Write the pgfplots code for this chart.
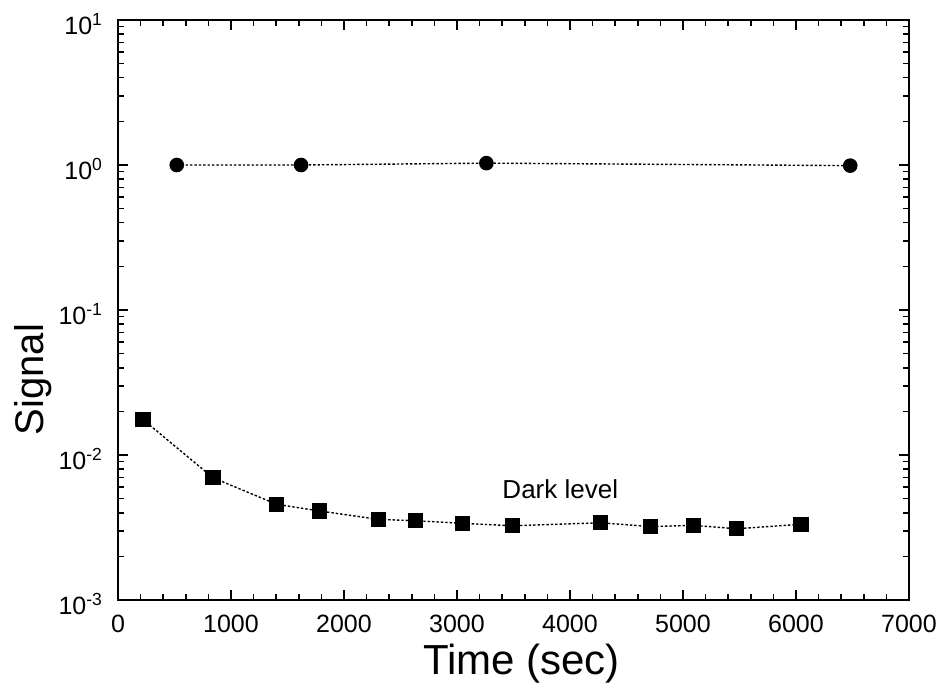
\documentclass[border=0pt]{standalone}
\usepackage{fontspec}
\setmainfont{Liberation Sans}
\usepackage{pgfplots}
\pgfplotsset{compat=1.18}

% circles: reference signal, squares: dark level
\pgfplotstableread{
t     s
520   1.00
1620  1.00
3260  1.03
6480  0.99
}\signal

\pgfplotstableread{
t     s
220   0.0176
840   0.00697
1405  0.00457
1785  0.00411
2305  0.00360
2635  0.00352
3050  0.00338
3490  0.00325
4270  0.00341
4710  0.00321
5095  0.00327
5475  0.00310
6045  0.00333
}\dark

\begin{document}
\begin{tikzpicture}
\begin{axis}[
  scale only axis, width=395.5pt, height=290pt,
  xmin=0, xmax=7000, ymin=1e-3, ymax=10, ymode=log,
  xtick={0,1000,...,7000}, minor x tick num=4,
  ytick={1e-3,1e-2,1e-1,1,10},
  yticklabels={10\textsuperscript{-3},10\textsuperscript{-2},10\textsuperscript{-1},10\textsuperscript{0},10\textsuperscript{1}},
  /pgf/number format/assume math mode=true,
  /pgf/number format/1000 sep={},
  tick align=inside, major tick length=5pt, minor tick length=3pt,
  every tick/.style={black, line width=0.8pt},
  axis line style={line width=1pt},
  tick label style={font=\fontsize{12.5}{14}\selectfont},
  xticklabel style={yshift=-4pt},
  yticklabel style={xshift=-4pt, yshift=-2pt},
  xlabel={Time (sec)}, ylabel={Signal},
  xlabel style={font=\fontsize{21}{24}\selectfont, at={(axis description cs:0.51,-0.11)}, anchor=center},
  ylabel style={font=\fontsize{20}{23}\selectfont, at={(axis description cs:-0.107,0.38)}, anchor=center},
  clip=false]
\addplot[black, dash pattern=on 1.2pt off 1pt, line width=0.7pt, mark=*, mark size=3.3pt,
  mark options={solid}] table[x=t, y=s] {\signal};
\addplot[black, dash pattern=on 1.2pt off 1pt, line width=0.7pt, mark=square*, mark size=3.5pt,
  mark options={solid}] table[x=t, y=s] {\dark};
\node[anchor=west, font=\fontsize{13}{15}\selectfont] at (axis cs:3340,0.0058) {Dark level};
\end{axis}
\pgfresetboundingbox
\useasboundingbox (current axis.south west) ++(-59pt,-48.5pt) rectangle ++(471pt,348.5pt);
\end{tikzpicture}
\end{document}
